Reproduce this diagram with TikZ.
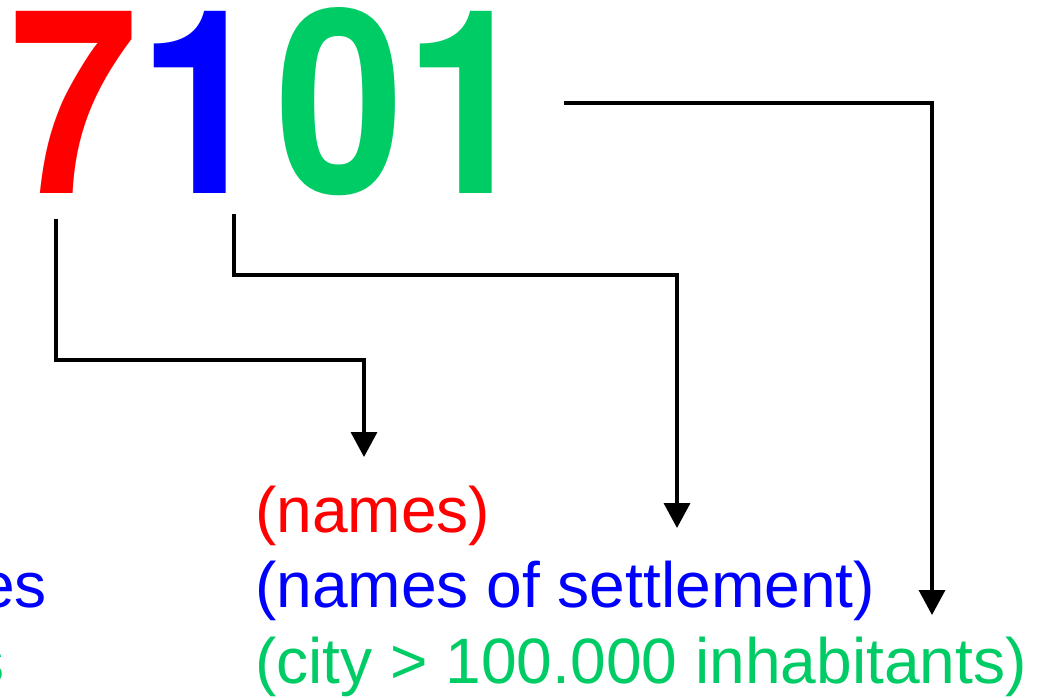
\documentclass[tikz,border=0pt]{standalone}
\usepackage{fontspec}
\setmainfont{Liberation Sans}
\newfontfamily\digitfont{TeX Gyre Heros}
\usetikzlibrary{arrows.meta,positioning}

\definecolor{codered}{RGB}{255,0,0}
\definecolor{codeblue}{RGB}{0,0,255}
\definecolor{codegreen}{RGB}{0,204,102}

\tikzset{
  digit/.style={inner sep=0pt, outer sep=0pt, anchor=base west,
    font=\digitfont\fontsize{132}{132}\selectfont\bfseries},
  codetext/.style={inner sep=0pt, outer sep=0pt,
    font=\fontsize{36.5}{40}\selectfont},
  conn/.style={line width=2pt, -{Triangle[length=0.5cm, width=0.52cm]}}
}

\begin{document}
\begin{tikzpicture}[x=0.02cm, y=-0.02cm]

  \useasboundingbox (0,0) rectangle (1037,697);

  % The code itself, one node per part
  \node[digit, text=codered] (d7) at (10,193) {\scalebox{1}[1.108]{7}};
  \node[digit, text=codeblue] (d1) at (d7.base east) {\scalebox{1}[1.108]{1}};
  \node[digit, text=codegreen] (d01) at ([xshift=0.16cm]d1.base east) {\scalebox{1}[1.108]{01}};

  % Meaning of each part
  \node[codetext, anchor=base west, text=codered] (lname) at (255,532) {(names)};
  \node[codetext, anchor=base west, text=codeblue] (lsettle) at (255,607) {(names of settlement)};
  \node[codetext, anchor=base west, text=codegreen] (lcity) at (255,683) {(city > 100.000 inhabitants)};

  % Left column, running off the edge
  \node[codetext, anchor=base east, text=codeblue] (lleft1) at (47,607) {es};
  \node[codetext, anchor=base east, text=codegreen] (lleft2) at (5,683) {s};

  % Arrow ends
  \coordinate (e7) at (364,457);
  \coordinate (e1) at (677,528);
  \coordinate (e01) at (932,615);

  % Connectors
  \draw[conn] ([xshift=-0.37cm, yshift=-0.52cm]d7.south) -- ++(0,141) -| (e7);
  \draw[conn] ([xshift=0.61cm, yshift=-0.42cm]d1.south) -- ++(0,61) -| (e1);
  \draw[conn] ([xshift=0.60cm, yshift=-0.04cm]d01.east) -| (e01);

\end{tikzpicture}
\end{document}
